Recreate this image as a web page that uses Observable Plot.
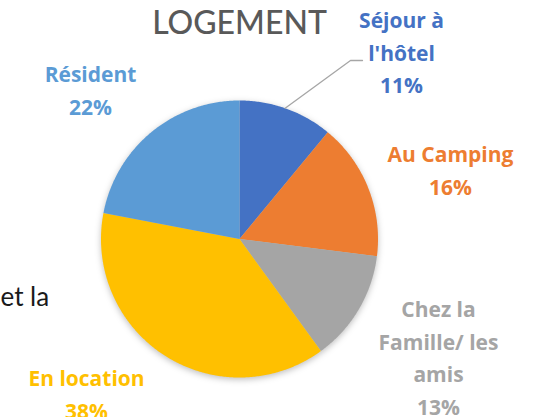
<!DOCTYPE html>
<html>
<head>
<meta charset="utf-8">
<script src="https://cdn.jsdelivr.net/npm/d3@7"></script>
<script src="https://cdn.jsdelivr.net/npm/@observablehq/plot@0.6"></script>
<style>
  html, body { margin: 0; padding: 0; background: #fff; overflow: hidden; }
  #chart svg { display: block; }
</style>
</head>
<body>
<div id="chart"></div>
<script>
// ---- data ----
const categories = ["Séjour à l'hôtel", "Au Camping", "Chez la Famille/ les amis", "En location", "Résident"];
const labelText = ["Séjour à\nl'hôtel", "Au Camping", "Chez la\nFamille/ les\namis", "En location", "Résident"];
const values = [11, 16, 13, 38, 22];
const colors = ["#4472C4", "#ED7D31", "#A5A5A5", "#FFC000", "#5B9BD5"];
const title = "LOGEMENT";
const sideText = "et la";

// ---- layout (pixels) ----
const W = 535, H = 417;
const cx = 239, cy = 238.5, R = 138.5;
const px2x = px => (px - cx) / R;
const py2y = py => (cy - py) / R;
const labelFont = 21;
const lineH = 32.5 / labelFont;
// label anchor: center x, first-line baseline y
const labelPos = [[401, 28], [450, 162], [438, 317], [86, 386], [90, 82]];

// ---- pie geometry from data ----
const arcs = d3.pie().sort(null).value(d => d.value)(
  categories.map((c, i) => ({category: c, value: values[i]}))
);
const piePts = [];
arcs.forEach(a => {
  const n = Math.max(2, Math.ceil((a.endAngle - a.startAngle) / 0.01));
  piePts.push({category: a.data.category, x: 0, y: 0});
  for (let k = 0; k <= n; k++) {
    const t = a.startAngle + (a.endAngle - a.startAngle) * k / n;
    piePts.push({category: a.data.category, x: Math.sin(t), y: Math.cos(t)});
  }
  piePts.push({category: a.data.category, x: 0, y: 0});
});

const labels = categories.map((c, i) => ({
  category: c,
  text: labelText[i] + "\n" + values[i] + "%",
  x: px2x(labelPos[i][0]),
  y: py2y(labelPos[i][1] - 0.71 * lineH * labelFont),
  color: colors[i]
}));

// leader line for "Séjour à l'hôtel"
const hotelArc = arcs[0];
const mid = (hotelArc.startAngle + hotelArc.endAngle) / 2 - 0.01;
const leader = [
  {x: Math.sin(mid), y: Math.cos(mid)},
  {x: px2x(350), y: py2y(60)},
  {x: px2x(362), y: py2y(60)}
];

const plot = Plot.plot({
  width: W,
  height: H,
  style: {background: "#fff", overflow: "hidden"},
  x: {domain: [-1, 1], range: [cx - R, cx + R], axis: null},
  y: {domain: [-1, 1], range: [cy + R, cy - R], axis: null},
  color: {domain: categories, range: colors},
  marks: [
    Plot.line(piePts, {x: "x", y: "y", z: "category", fill: "category", stroke: "none", curve: "linear"}),
    Plot.line(leader, {x: "x", y: "y", stroke: "#A6A6A6", strokeWidth: 1.3}),
    Plot.text(labels, {
      x: "x", y: "y", text: "text", fill: d => d.color,
      fontFamily: "Open Sans", fontWeight: "bold", fontSize: labelFont,
      lineAnchor: "top", lineHeight: lineH, textAnchor: "middle"
    }),
    Plot.text([title], {
      x: px2x(239), y: py2y(33), text: d => d, fill: "#595959",
      fontFamily: "Lato", fontWeight: 500, fontSize: 32, lineAnchor: "bottom", textAnchor: "middle"
    }),
    Plot.text([sideText], {
      x: px2x(0), y: py2y(305), text: d => d, fill: "#1a1a1a",
      fontFamily: "Lato", fontSize: 26, lineAnchor: "bottom", textAnchor: "start"
    })
  ]
});
document.getElementById("chart").appendChild(plot);
// soft shadow under the pie
d3.select(plot).select("g[aria-label='line']").style("filter", "drop-shadow(0px 2px 3px rgba(0,0,0,0.25))");
</script>
</body>
</html>
